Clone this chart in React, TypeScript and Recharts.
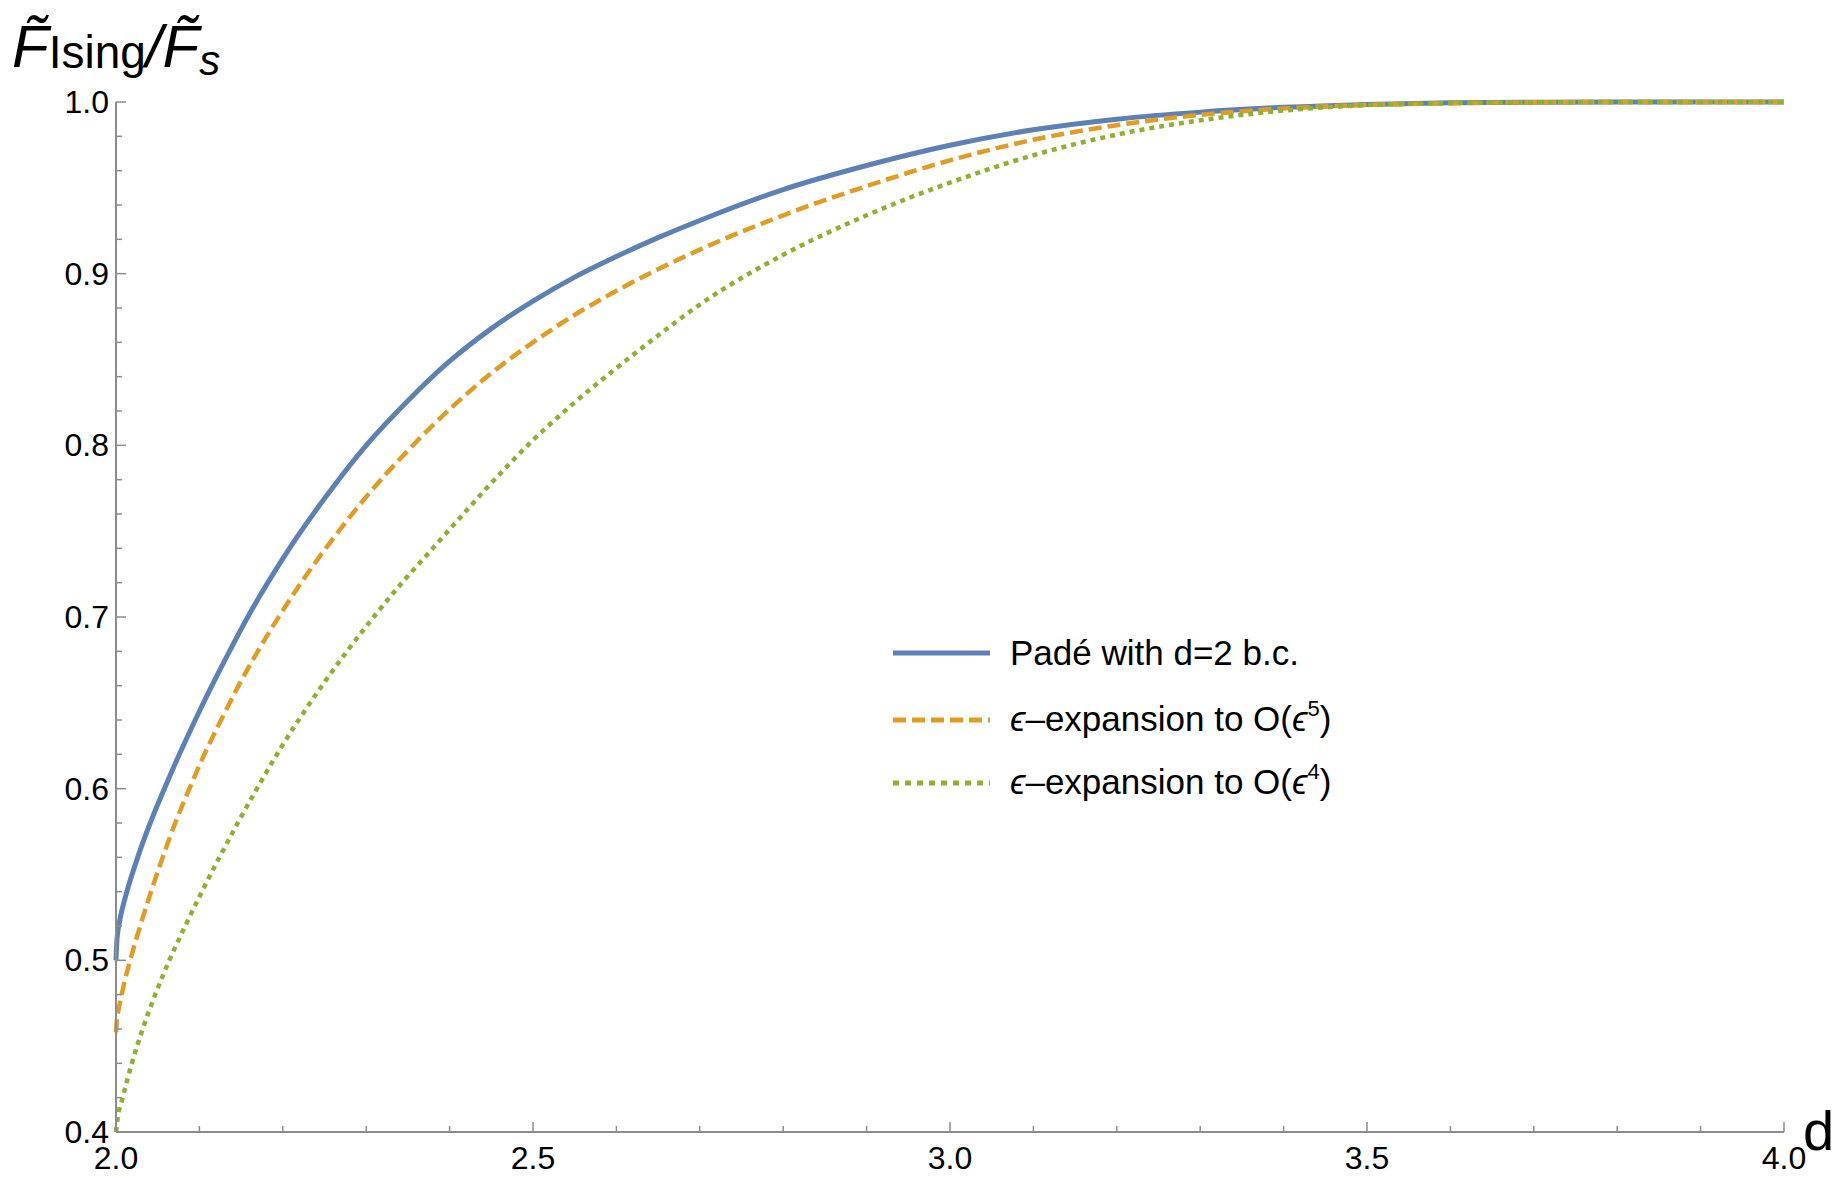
import React from 'react';
import { LineChart, Line, XAxis, YAxis } from 'recharts';

// Padé with d=2 b.c.
const padeD = [2.0, 2.001, 2.002, 2.004, 2.008, 2.013, 2.026, 2.041, 2.058, 2.076, 2.095, 2.115, 2.136, 2.158, 2.182, 2.208, 2.25, 2.3, 2.35, 2.4, 2.45, 2.5, 2.55, 2.6, 2.65, 2.7, 2.8, 2.9, 3.0, 3.1, 3.2, 3.3, 3.4, 3.5, 3.6, 3.7, 3.8, 3.9, 4.0];
const padeV = [0.5, 0.511, 0.516, 0.522, 0.531, 0.54, 0.56, 0.58, 0.6, 0.62, 0.64, 0.66, 0.68, 0.7, 0.72, 0.74, 0.769, 0.8, 0.826, 0.849, 0.868, 0.884, 0.898, 0.91, 0.921, 0.931, 0.949, 0.963, 0.9748, 0.9838, 0.99, 0.9941, 0.9969, 0.9986, 0.9995, 0.9999, 1.0, 1.0, 1.0];

// epsilon-expansion to O(eps^5)
const eps5D = [2.0, 2.001, 2.003, 2.006, 2.011, 2.017, 2.029, 2.042, 2.056, 2.071, 2.088, 2.106, 2.126, 2.147, 2.17, 2.195, 2.222, 2.25, 2.3, 2.35, 2.4, 2.45, 2.5, 2.55, 2.6, 2.7, 2.8, 2.9, 3.0, 3.1, 3.2, 3.3, 3.4, 3.5, 3.6, 3.7, 3.8, 3.9, 4.0];
const eps5V = [0.458, 0.465, 0.471, 0.478, 0.489, 0.5, 0.52, 0.54, 0.56, 0.58, 0.6, 0.62, 0.64, 0.66, 0.68, 0.7, 0.72, 0.739, 0.77, 0.797, 0.821, 0.842, 0.86, 0.876, 0.89, 0.914, 0.934, 0.951, 0.966, 0.978, 0.9865, 0.9925, 0.9962, 0.9983, 0.9993, 0.9998, 1.0, 1.0, 1.0];

// epsilon-expansion to O(eps^4)
const eps4D = [2.0, 2.002, 2.008, 2.019, 2.032, 2.047, 2.064, 2.083, 2.103, 2.124, 2.146, 2.169, 2.193, 2.219, 2.247, 2.277, 2.309, 2.343, 2.378, 2.4, 2.45, 2.5, 2.55, 2.6, 2.65, 2.7, 2.8, 2.9, 3.0, 3.1, 3.2, 3.3, 3.4, 3.5, 3.6, 3.7, 3.8, 3.9, 4.0];
const eps4V = [0.4, 0.408, 0.42, 0.44, 0.46, 0.48, 0.5, 0.52, 0.54, 0.56, 0.58, 0.6, 0.62, 0.64, 0.66, 0.68, 0.7, 0.72, 0.739, 0.751, 0.778, 0.803, 0.825, 0.845, 0.864, 0.882, 0.911, 0.934, 0.953, 0.969, 0.981, 0.9893, 0.995, 0.9982, 0.9994, 0.9998, 1.0, 1.0, 1.0];

const xTicks = [2.0, 2.1, 2.2, 2.3, 2.4, 2.5, 2.6, 2.7, 2.8, 2.9, 3.0, 3.1, 3.2, 3.3, 3.4, 3.5, 3.6, 3.7, 3.8, 3.9, 4.0];
const xTickLabels = ['2.0', '2.5', '3.0', '3.5', '4.0'];
const yTicks = [0.4, 0.42, 0.44, 0.46, 0.48, 0.5, 0.52, 0.54, 0.56, 0.58, 0.6, 0.62, 0.64, 0.66, 0.68, 0.7, 0.72, 0.74, 0.76, 0.78, 0.8, 0.82, 0.84, 0.86, 0.88, 0.9, 0.92, 0.94, 0.96, 0.98, 1.0];
const yTickLabels = ['0.4', '0.5', '0.6', '0.7', '0.8', '0.9', '1.0'];

const seriesNames = ['Padé with d=2 b.c.', 'expansion to O(', 'expansion to O('];

const toRows = (ds: number[], vs: number[]) => ds.map((d, i) => ({ d, v: vs[i] }));
const padeData = toRows(padeD, padeV);
const eps5Data = toRows(eps5D, eps5V);
const eps4Data = toRows(eps4D, eps4V);

const FONT = '"Liberation Sans", Arial, "DejaVu Sans", sans-serif';
const AXIS = '#8c8c8c';
const BLUE = '#5e81b5';
const ORANGE = '#e19c24';
const GREEN = '#8fb032';

const findLabel = (labels: string[], v: number) =>
  labels.find((l) => Math.abs(parseFloat(l) - v) < 1e-6);

function XTick(props: any) {
  const { x, y, payload } = props;
  const label = findLabel(xTickLabels, payload.value);
  const len = label ? 10 : 6;
  return (
    <g>
      <line x1={x} y1={y} x2={x} y2={y - len} stroke={AXIS} strokeWidth={1.5} />
      {label && (
        <text x={x} y={y + 26} textAnchor="middle" dominantBaseline="central" fontSize={32} fontFamily={FONT} fill="#000">
          {label}
        </text>
      )}
    </g>
  );
}

function YTick(props: any) {
  const { x, y, payload } = props;
  const label = findLabel(yTickLabels, payload.value);
  const len = label ? 10 : 6;
  return (
    <g>
      <line x1={x} y1={y} x2={x + len} y2={y} stroke={AXIS} strokeWidth={1.5} />
      {label && (
        <text x={x - 7} y={y} textAnchor="end" dominantBaseline="central" fontSize={32} fontFamily={FONT} fill="#000">
          {label}
        </text>
      )}
    </g>
  );
}

export default function App() {
  return (
    <div style={{ position: 'relative', width: 1839, height: 1178, marginLeft: -8, marginTop: -8, background: '#fff' }}>
      <LineChart width={1839} height={1178} margin={{ top: 102, right: 55, bottom: 6, left: 36 }}>
        <XAxis
          dataKey="d"
          type="number"
          domain={[2, 4]}
          ticks={xTicks}
          interval={0}
          height={40}
          tickSize={0}
          tickMargin={0}
          tick={<XTick />}
          axisLine={{ stroke: AXIS, strokeWidth: 2 }}
          tickLine={false}
        />
        <YAxis
          dataKey="v"
          type="number"
          domain={[0.4, 1.0]}
          ticks={yTicks}
          interval={0}
          width={80}
          tickSize={0}
          tickMargin={0}
          tick={<YTick />}
          axisLine={{ stroke: AXIS, strokeWidth: 2 }}
          tickLine={false}
        />
        <Line data={padeData} dataKey="v" name={seriesNames[0]} type="monotone" stroke={BLUE} strokeWidth={5} dot={false} isAnimationActive={false} />
        <Line data={eps5Data} dataKey="v" name={seriesNames[1]} type="monotone" stroke={ORANGE} strokeWidth={4.5} strokeDasharray="13 6" dot={false} isAnimationActive={false} />
        <Line data={eps4Data} dataKey="v" name={seriesNames[2]} type="monotone" stroke={GREEN} strokeWidth={4.5} strokeDasharray="5 5" dot={false} isAnimationActive={false} />
      </LineChart>
      <svg width={1839} height={1178} style={{ position: 'absolute', left: 0, top: 0, pointerEvents: 'none' }} fontFamily={FONT}>
        {/* y-axis title */}
        <text x={12} y={67} fill="#000">
          <tspan fontSize={60} fontStyle="italic">F&#x303;</tspan>
          <tspan fontSize={46} dy={1}>Ising</tspan>
          <tspan fontSize={60} fontStyle="italic" dy={-1}>/F&#x303;</tspan>
          <tspan fontSize={42} fontStyle="italic" dy={8}>s</tspan>
        </text>
        {/* x-axis title */}
        <text x={1803} y={1150} fontSize={56} fill="#000">d</text>
        {/* legend */}
        <line x1={893} y1={653} x2={990} y2={653} stroke={BLUE} strokeWidth={5} />
        <text x={1010} y={665} fontSize={35} fill="#000">{seriesNames[0]}</text>
        <line x1={893} y1={720} x2={990} y2={720} stroke={ORANGE} strokeWidth={5} strokeDasharray="13 6" />
        <text x={1010} y={731} fontSize={35} fill="#000">
          <tspan fontStyle="italic">ϵ</tspan>–{seriesNames[1]}<tspan fontStyle="italic">ϵ</tspan>
          <tspan fontSize={22} dy={-15}>5</tspan>
          <tspan dy={15}>)</tspan>
        </text>
        <line x1={893} y1={783} x2={990} y2={783} stroke={GREEN} strokeWidth={5} strokeDasharray="6 6" />
        <text x={1010} y={794} fontSize={35} fill="#000">
          <tspan fontStyle="italic">ϵ</tspan>–{seriesNames[2]}<tspan fontStyle="italic">ϵ</tspan>
          <tspan fontSize={22} dy={-15}>4</tspan>
          <tspan dy={15}>)</tspan>
        </text>
      </svg>
    </div>
  );
}
